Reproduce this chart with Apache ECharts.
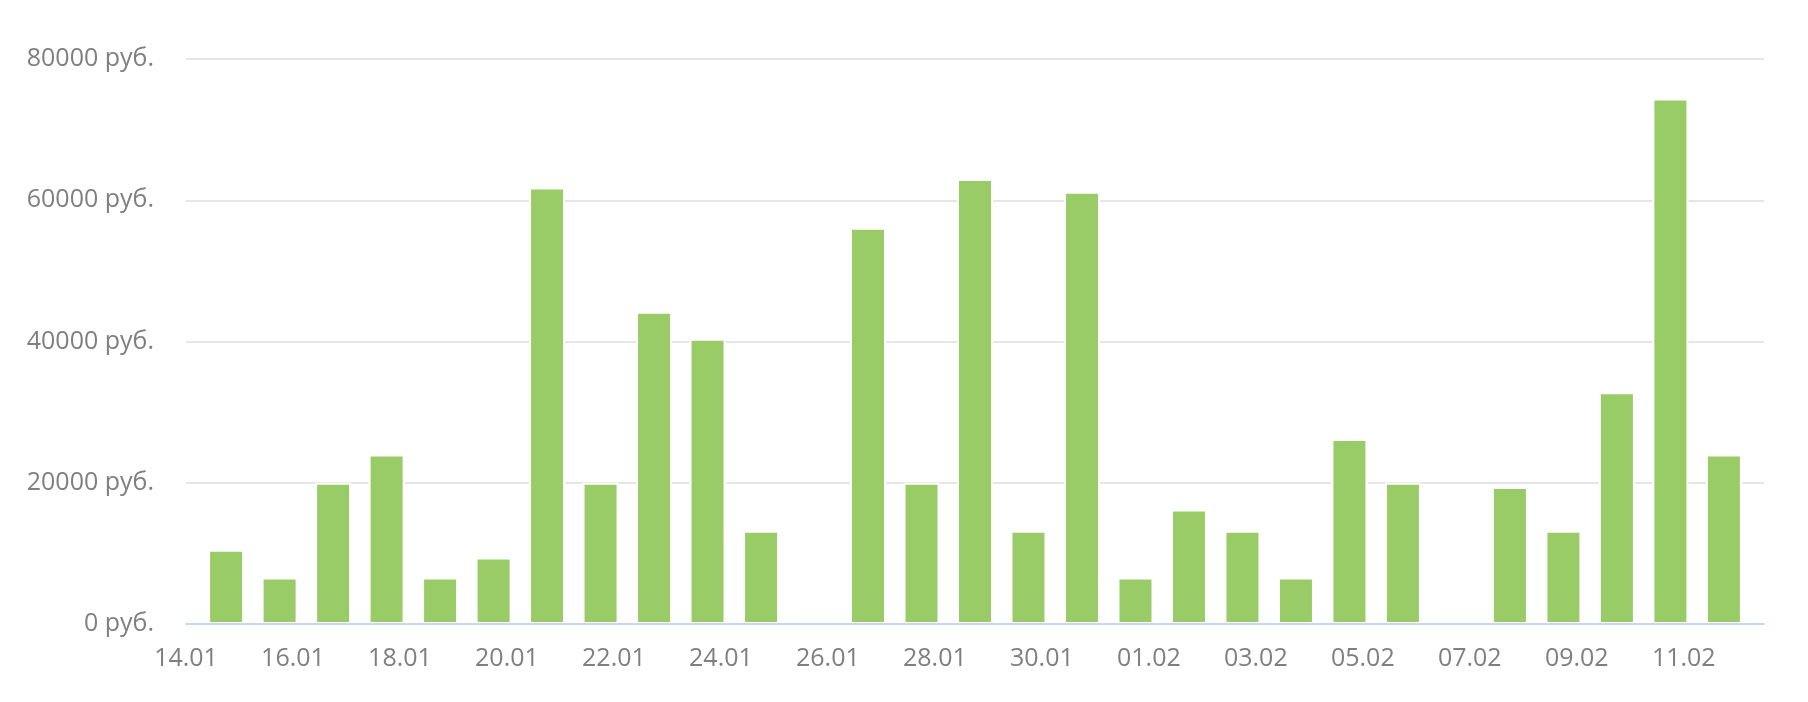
<!DOCTYPE html>
<html>
<head>
<meta charset="utf-8">
<script src="https://cdn.jsdelivr.net/npm/echarts@6/dist/echarts.min.js"></script>
<style>
html,body{margin:0;padding:0;background:#fff;}
#chart{width:1808px;height:702px;}
</style>
</head>
<body>
<div id="chart"></div>
<script>
// Days shown (one bar per day)
const days = ['14.01','15.01','16.01','17.01','18.01','19.01','20.01','21.01','22.01','23.01',
  '24.01','25.01','26.01','27.01','28.01','29.01','30.01','31.01','01.02','02.02',
  '03.02','04.02','05.02','06.02','07.02','08.02','09.02','10.02','11.02'];
// Daily amounts, руб.
const amounts = [10500, 6600, 20000, 24000, 6600, 9400, 61800, 20000, 44200, 40400,
  13200, 0, 56100, 20000, 63000, 13200, 61200, 6600, 16200, 13200,
  6600, 26200, 20000, 0, 19400, 13200, 32800, 74400, 24000];
// Axis tick labels (every second day)
const xTickLabels = ['14.01','16.01','18.01','20.01','22.01','24.01','26.01','28.01',
  '30.01','01.02','03.02','05.02','07.02','09.02','11.02'];
const yTicks = [0, 20000, 40000, 60000, 80000];
const unit = ' руб.';

const dayOffset = 0.75;   // bars sit 18h after the day tick
const xMax = 29.5;

const chart = echarts.init(document.getElementById('chart'), null, {renderer: 'canvas'});
const labelFont = {fontFamily: '"Open Sans", sans-serif', fontSize: 25, color: '#7f7f7f'};

chart.setOption({
  animation: false,
  backgroundColor: '#ffffff',
  grid: {left: 186, right: 44, top: 59, bottom: 78, containLabel: false},
  xAxis: {
    type: 'value',
    min: 0,
    max: xMax,
    interval: 2,
    z: 5,
    axisLine: {show: true, lineStyle: {color: '#ccd6eb', width: 2}},
    axisTick: {show: false},
    splitLine: {show: false},
    axisLabel: Object.assign({
      margin: 22,
      showMaxLabel: false,
      formatter: function (v) {
        if (Math.abs(v - Math.round(v)) > 1e-6) return '';
        const k = Math.round(v) / 2;
        return (Number.isInteger(k) && xTickLabels[k] !== undefined) ? xTickLabels[k] : '';
      }
    }, labelFont)
  },
  yAxis: {
    type: 'value',
    min: yTicks[0],
    max: yTicks[yTicks.length - 1],
    interval: yTicks[1] - yTicks[0],
    axisLine: {show: false},
    axisTick: {show: false},
    splitLine: {show: true, lineStyle: {color: '#e6e6e6', width: 2}},
    axisLabel: Object.assign({
      margin: 32,
      formatter: function (v) { return v + unit; }
    }, labelFont)
  },
  series: [{
    type: 'bar',
    name: 'Сумма',
    barWidth: 36,
    itemStyle: {color: '#99cc66', borderColor: '#ffffff', borderWidth: 2},
    data: amounts.map(function (v, i) { return [i + dayOffset, v]; })
  }]
});
</script>
</body>
</html>
